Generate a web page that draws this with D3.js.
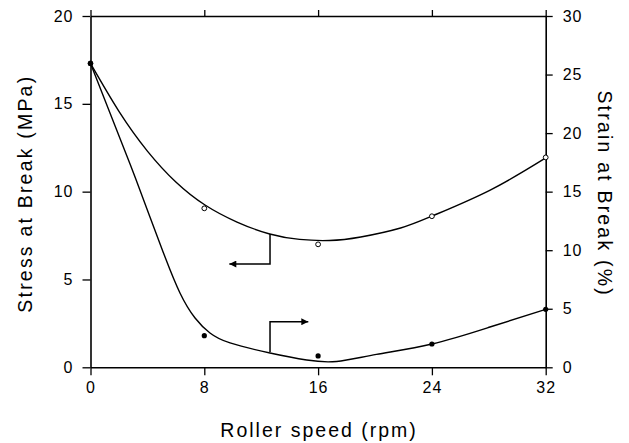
<!DOCTYPE html>
<html>
<head>
<meta charset="utf-8">
<script src="https://cdn.jsdelivr.net/npm/d3@7"></script>
<style>
  html, body { margin: 0; padding: 0; background: #fff; }
  svg { display: block; font-family: "Liberation Sans", Arial, Helvetica, sans-serif; }
  .tick text { font-size: 16px; fill: #000; }
  .axis path, .axis line { stroke: #000; }
</style>
</head>
<body>
<svg id="chart" width="629" height="443"></svg>
<script>
// Roller speed (rpm)
const speeds = [0, 8, 16, 24, 32];
// Stress at break (MPa), open circles, left axis
const stressValues = [17.3, 9.05, 7.0, 8.6, 11.95];
// Strain at break (%), filled circles, right axis
const strainValues = [25.95, 2.7, 0.97, 1.99, 4.95];

// Smooth trend curves: points sampled along each fitted line
const stressFitX = [0, 2, 4, 6, 8.05, 10.3, 12.6, 14.7, 16.8, 19, 21.8, 24.1, 28.1, 32];
const stressFitY = [17.3, 14.57, 12.31, 10.55, 9.24, 8.27, 7.59, 7.28, 7.22, 7.42, 7.93, 8.64, 10.09, 11.92];
const strainFitX = [0, 1.37, 2.78, 4.18, 5.24, 6.29, 7.35, 8.4, 9.81, 12.62, 15.2, 17.3, 20.1, 24.0, 28.08, 32];
const strainFitY = [25.96, 21.72, 17.36, 12.84, 9.42, 6.35, 4.21, 2.93, 2.08, 1.22, 0.62, 0.5, 1.1, 1.99, 3.44, 4.95];

// Tick values
const xTicks = [0, 8, 16, 24, 32];
const stressTicks = [0, 5, 10, 15, 20];
const strainTicks = [0, 5, 10, 15, 20, 25, 30];

// Pointer arrows linking each curve to its axis (data units)
const stressPointer = { x: 12.62, from: 7.59, to: 5.88, tipX: 9.76 };
const strainPointer = { x: 12.62, from: 1.3, to: 3.89, tipX: 15.31 };

const svg = d3.select("#chart");
const plotLeft = 90.5, plotRight = 545.7, plotTop = 16, plotBottom = 367.3;

const x = d3.scaleLinear().domain([0, 32]).range([plotLeft, plotRight]);
const yStress = d3.scaleLinear().domain([0, 20]).range([plotBottom, plotTop]);
const yStrain = d3.scaleLinear().domain([0, 30]).range([plotBottom, plotTop]);

svg.append("defs").append("marker")
  .attr("id", "head")
  .attr("viewBox", "0 0 10 10")
  .attr("refX", 10).attr("refY", 5)
  .attr("markerWidth", 9).attr("markerHeight", 7)
  .attr("markerUnits", "userSpaceOnUse")
  .attr("orient", "auto")
  .append("path").attr("d", "M0,0L10,5L0,10Z").attr("fill", "#000");

// Axes
const axisStroke = 1.6;
const gBottom = svg.append("g").attr("class", "axis")
  .attr("transform", `translate(0,${plotBottom})`)
  .call(d3.axisBottom(x).tickValues(xTicks).tickSize(8).tickSizeOuter(0).tickPadding(6));
const gTop = svg.append("g").attr("class", "axis")
  .attr("transform", `translate(0,${plotTop})`)
  .call(d3.axisTop(x).tickValues(xTicks).tickSize(6).tickSizeOuter(0).tickFormat(""));
const gLeft = svg.append("g").attr("class", "axis")
  .attr("transform", `translate(${plotLeft},0)`)
  .call(d3.axisLeft(yStress).tickValues(stressTicks).tickSize(8).tickSizeOuter(0).tickPadding(9));
const gRight = svg.append("g").attr("class", "axis")
  .attr("transform", `translate(${plotRight},0)`)
  .call(d3.axisRight(yStrain).tickValues(strainTicks).tickSize(7).tickSizeOuter(0).tickPadding(10));

[gBottom, gTop, gLeft, gRight].forEach(g => {
  g.select(".domain").attr("stroke-width", axisStroke);
  g.selectAll(".tick line").attr("stroke-width", 1.3);
  g.selectAll(".tick text").attr("font-family", "'Liberation Sans', Arial, sans-serif")
    .style("letter-spacing", "1px");
});

// Trend curves
const line = d3.line().curve(d3.curveNatural);
const stressFit = stressFitX.map((v, i) => [x(v), yStress(stressFitY[i])]);
const strainFit = strainFitX.map((v, i) => [x(v), yStrain(strainFitY[i])]);

svg.append("path").attr("d", line(stressFit))
  .attr("fill", "none").attr("stroke", "#000").attr("stroke-width", 1.4);
svg.append("path").attr("d", line(strainFit))
  .attr("fill", "none").attr("stroke", "#000").attr("stroke-width", 1.4);

// Data points
svg.append("g").selectAll("circle").data(speeds).join("circle")
  .attr("cx", d => x(d))
  .attr("cy", (d, i) => yStrain(strainValues[i]))
  .attr("r", 2.6).attr("fill", "#000");
svg.append("g").selectAll("circle").data(speeds).join("circle")
  .attr("cx", d => x(d))
  .attr("cy", (d, i) => yStress(stressValues[i]))
  .attr("r", 2.4).attr("fill", (d, i) => i === 0 ? "#000" : "#fff")
  .attr("stroke", "#000").attr("stroke-width", 1);

// Pointer arrows
function pointer(p, yScale) {
  svg.append("path")
    .attr("d", d3.line()([[x(p.x), yScale(p.from)], [x(p.x), yScale(p.to)], [x(p.tipX), yScale(p.to)]]))
    .attr("fill", "none").attr("stroke", "#000").attr("stroke-width", 1.5)
    .attr("marker-end", "url(#head)");
}
pointer(stressPointer, yStress);
pointer(strainPointer, yStrain);

// Axis titles
svg.append("text")
  .attr("x", (plotLeft + plotRight) / 2 + 1).attr("y", 437)
  .attr("text-anchor", "middle")
  .style("font-size", "19.5px").style("letter-spacing", "2px")
  .text("Roller speed (rpm)");

svg.append("text")
  .attr("transform", `translate(32,${(plotTop + plotBottom) / 2 + 2}) rotate(-90)`)
  .attr("text-anchor", "middle")
  .style("font-size", "19.5px").style("letter-spacing", "2.2px")
  .text("Stress at Break (MPa)");

svg.append("text")
  .attr("transform", `translate(598,${(plotTop + plotBottom) / 2 + 2}) rotate(90)`)
  .attr("text-anchor", "middle")
  .style("font-size", "19.5px").style("letter-spacing", "2.2px")
  .text("Strain at Break (%)");
</script>
</body>
</html>
